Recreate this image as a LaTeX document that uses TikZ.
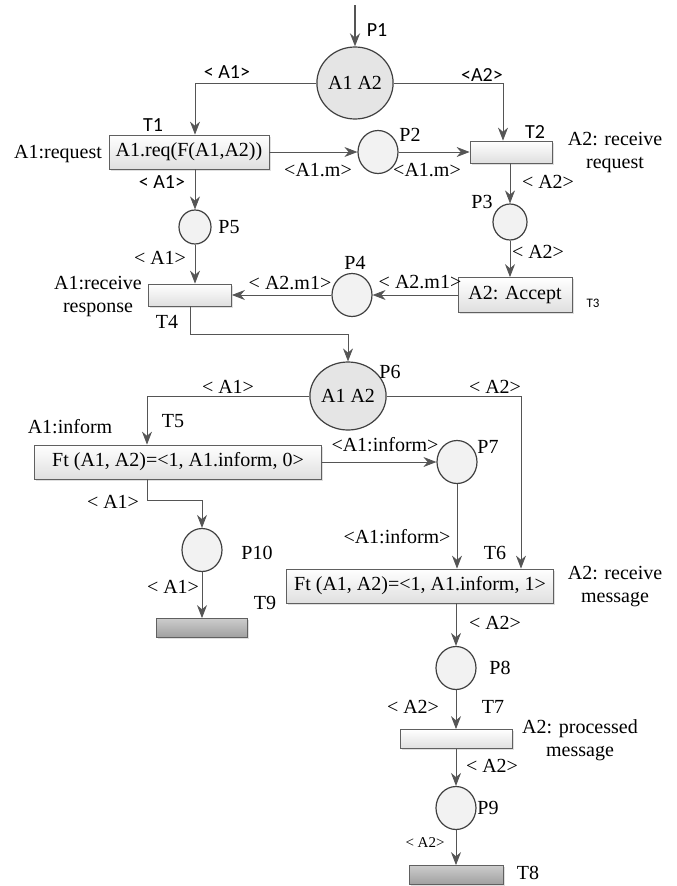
\documentclass[tikz,border=0pt]{standalone}
\usepackage{fontspec}
\setmainfont{Liberation Serif}
\newfontfamily\sanslab{Carlito}
\usetikzlibrary{arrows.meta, shapes.geometric, shadows}
\definecolor{arcgray}{HTML}{555555}
\tikzset{
	place/.style={
		ellipse, draw=black!75, line width=1.2pt, fill=gray!10,
		minimum width=40pt, minimum height=43pt, inner sep=0pt
	},
	bigplace/.style={
		place, fill=gray!20,
		minimum width=70pt, minimum height=72pt
	},
	trans/.style={
		rectangle, draw=gray!75!black, line width=0.8pt,
		top color=white, bottom color=gray!25,
		drop shadow={shadow xshift=1.5pt, shadow yshift=-1.5pt, opacity=0.25},
		inner sep=0pt
	},
	darktrans/.style={
		trans, top color=gray!40, bottom color=gray!75
	},
	arc/.style={
		draw=arcgray, line width=0.8pt,
		-{Stealth[length=13pt, width=10pt]}
	},
	sanstxt/.style={font=\sanslab\fontsize{20}{22}\selectfont},
	smalltxt/.style={font=\fontsize{15}{17}\selectfont}
}

\begin{document}
\begin{tikzpicture}[x=1pt, y=-1pt, font=\fontsize{20}{23}\selectfont]
\useasboundingbox (0,0) rectangle (677,886);

% places
\node[bigplace] (P1) at (355,83) {A1 A2};
\node[bigplace, minimum width=66pt, minimum height=68pt] (P6) at (348,396) {A1 A2};
\foreach \p/\x/\y in {P2/378/152, P4/352/295, P7/457/462, P8/456/668, P9/456/808, P10/202/550} {
	\node[place] (\p) at (\x,\y) {};
}
\node[place, minimum width=34pt, minimum height=36pt] (P3) at (510,222) {};
\node[place, minimum width=32pt, minimum height=34pt] (P5) at (195,227) {};

% transitions
\node[trans, minimum width=160pt, minimum height=34pt] (T1) at (189,152) {A1.req(F(A1,A2))};
\node[trans, minimum width=82pt, minimum height=22pt] (T2) at (511,152) {};
\node[trans, minimum width=114pt, minimum height=35pt] (T3) at (515,295) {A2: Accept};
\node[trans, minimum width=83pt, minimum height=22pt] (T4) at (190,295) {};
\node[trans, minimum width=287pt, minimum height=34pt] (T5) at (178,462) {Ft (A1, A2)=<1, A1.inform, 0>};
\node[trans, minimum width=267pt, minimum height=34pt] (T6) at (420,586) {Ft (A1, A2)=<1, A1.inform, 1>};
\node[trans, minimum width=112pt, minimum height=19pt] (T7) at (456,739) {};
\node[darktrans, minimum width=94pt, minimum height=19pt] (T8) at (456,875) {};
\node[darktrans, minimum width=91pt, minimum height=19pt] (T9) at (202,628) {};

% arcs
\coordinate (src) at (355,5);
\draw[arc, line width=2pt] (src) -- (P1.north);
\draw[arc] (P1.west) -| (P5 |- T1.north);
\draw[arc] (P1.east) -| ([xshift=-8pt]T2.north);
\draw[arc] (T1) -- (P2);
\draw[arc] (P2) -- (T2);
\draw[arc] (P5 |- T1.south) -- (P5);
\draw[arc] (P5) -- (P5 |- T4.north);
\draw[arc] (P3 |- T2.south) -- (P3);
\draw[arc] (P3) -- (P3 |- T3.north);
\draw[arc] (T3) -- (P4);
\draw[arc] (P4) -- (T4);
\draw[arc] (T4.south) |- ([yshift=27pt]P6.north) -- (P6.north);
\draw[arc] (P6.west) -| ([xshift=-31pt]T5.north);
\draw[arc] (P6.east) -| ([xshift=101pt]T6.north);
\draw[arc] (T5) -- (P7);
\draw[arc] (P7) -- (P7 |- T6.north);
\draw[arc] ([xshift=-31pt]T5.south) |- ([yshift=28pt]P10.north) -- (P10.north);
\draw[arc] (P10) -- (T9);
\draw[arc] (P8 |- T6.south) -- (P8);
\draw[arc] (P8) -- (T7);
\draw[arc] (T7) -- (P9);
\draw[arc] (P9) -- (T8);

% names of places and transitions
\node[sanstxt] (lbP1) at (377,30) {P1};
\node[sanstxt] (lbT1) at (153,125) {T1};
\node[sanstxt] (lbT2) at (535,132) {T2};
\node[sanstxt, font=\sanslab\fontsize{13}{15}\selectfont] (lbT3) at (593,303) {T3};
\node (lbP2) at (410,135) {P2};
\node (lbP3) at (482,202) {P3};
\node (lbP4) at (355,263) {P4};
\node (lbP5) at (229,227) {P5};
\node (lbT4) at (167,322) {T4};
\node (lbP6) at (390,372) {P6};
\node (lbT5) at (173,421) {T5};
\node (lbP7) at (488,447) {P7};
\node (lbP10) at (257,553) {P10};
\node (lbT9) at (265,603) {T9};
\node (lbT6) at (495,553) {T6};
\node (lbP8) at (500,668) {P8};
\node (lbT7) at (493,707) {T7};
\node (lbP9) at (488,808) {P9};
\node (lbT8) at (528,873) {T8};

% actions
\node (acT1) at (58,154) {A1:request};
\node[align=center] (acT2) at (615,153) {A2: receive\\request};
\node[align=center] (acT4) at (98,297) {A1:receive\\response};
\node (acT5) at (70,427) {A1:inform};
\node[align=center] (acT6) at (615,587) {A2: receive\\message};
\node[align=center] (acT7) at (580,740) {A2: processed\\message};

% arc inscriptions
\node[sanstxt] (w1) at (227,72) {< A1>};
\node[sanstxt] (w2) at (482,75) {<A2>};
\node[sanstxt] (w3) at (162,182) {< A1>};
\node (w4) at (318,170) {<A1.m>};
\node (w5) at (427,170) {<A1.m>};
\node (w6) at (548,182) {< A2>};
\node (w7) at (160,258) {< A1>};
\node (w8) at (538,252) {< A2>};
\node (w9) at (290,283) {< A2.m1>};
\node (w10) at (420,282) {< A2.m1>};
\node (w11) at (228,387) {< A1>};
\node (w12) at (495,387) {< A2>};
\node (w13) at (385,445) {<A1:inform>};
\node (w14) at (113,502) {< A1>};
\node (w15) at (173,587) {< A1>};
\node (w16) at (397,537) {<A1:inform>};
\node (w17) at (495,623) {< A2>};
\node (w18) at (413,707) {< A2>};
\node (w19) at (492,766) {< A2>};
\node[smalltxt] (w20) at (425,843) {< A2>};
\end{tikzpicture}
\end{document}
